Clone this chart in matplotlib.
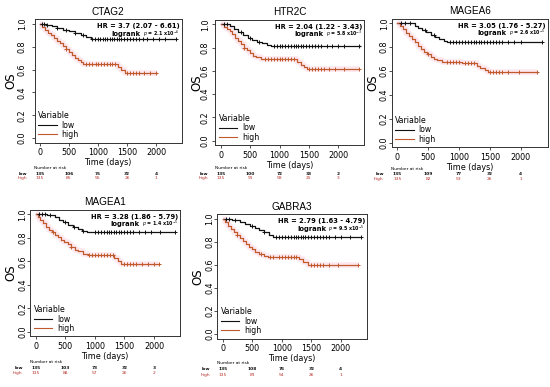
import numpy as np
import matplotlib
matplotlib.use("Agg")
import matplotlib.pyplot as plt
from matplotlib.transforms import blended_transform_factory
from matplotlib.lines import Line2D

W, H = 550, 387
genes = ["CTAG2", "HTR2C", "MAGEA6", "MAGEA1", "GABRA3"]
hr_text = ["HR = 3.7 (2.07 - 6.61)", "HR = 2.04 (1.22 - 3.43)", "HR = 3.05 (1.76 - 5.27)",
           "HR = 3.28 (1.86 - 5.79)", "HR = 2.79 (1.63 - 4.79)"]
p_mant = ["2.1", "5.8", "2.6", "1.4", "9.5"]
p_exp = ["-6", "-3", "-5", "-5", "-5"]

# Kaplan-Meier steps (time, survival after step)
low_t = {
    "CTAG2": [0, 100, 200, 300, 400, 500, 600, 700, 800, 880],
    "HTR2C": [0, 150, 220, 300, 380, 460, 540, 620, 700, 780, 860],
    "MAGEA6": [0, 280, 330, 400, 470, 540, 610, 680, 750, 800],
    "MAGEA1": [0, 200, 330, 400, 470, 550, 630, 710, 790, 870, 950],
    "GABRA3": [0, 150, 300, 380, 460, 540, 620, 700, 780, 860],
}
low_s = {
    "CTAG2": [1.0, 0.99, 0.978, 0.963, 0.948, 0.935, 0.92, 0.904, 0.885, 0.87],
    "HTR2C": [1.0, 0.985, 0.96, 0.935, 0.91, 0.885, 0.865, 0.85, 0.835, 0.82, 0.81],
    "MAGEA6": [1.0, 0.98, 0.96, 0.94, 0.925, 0.905, 0.885, 0.87, 0.855, 0.845],
    "MAGEA1": [1.0, 0.99, 0.975, 0.955, 0.935, 0.91, 0.89, 0.875, 0.86, 0.85, 0.845],
    "GABRA3": [1.0, 0.99, 0.975, 0.955, 0.94, 0.925, 0.905, 0.885, 0.86, 0.84],
}
low_end = {"CTAG2": 2350, "HTR2C": 2370, "MAGEA6": 2350, "MAGEA1": 2350, "GABRA3": 2350}

high_t = {
    "CTAG2": [0, 40, 90, 140, 190, 240, 290, 340, 400, 450, 500, 550, 600, 650, 700, 740, 1340, 1400, 1460],
    "HTR2C": [0, 50, 100, 150, 200, 250, 300, 350, 400, 450, 500, 550, 600, 680, 1300, 1360, 1420, 1470],
    "MAGEA6": [0, 40, 90, 140, 190, 240, 290, 340, 390, 440, 490, 540, 590, 650, 720, 1050, 1300, 1350, 1420, 1480],
    "MAGEA1": [0, 40, 80, 130, 180, 230, 280, 330, 380, 430, 480, 540, 600, 660, 720, 800, 880, 1330, 1390, 1450],
    "GABRA3": [0, 40, 90, 140, 190, 240, 290, 340, 390, 440, 490, 550, 620, 700, 760, 1300, 1360, 1440],
}
high_s = {
    "CTAG2": [1.0, 0.975, 0.95, 0.925, 0.905, 0.88, 0.855, 0.83, 0.805, 0.78, 0.755, 0.725, 0.70, 0.685, 0.665, 0.645, 0.62, 0.595, 0.572],
    "HTR2C": [1.0, 0.98, 0.96, 0.94, 0.915, 0.885, 0.86, 0.83, 0.80, 0.78, 0.755, 0.73, 0.715, 0.70, 0.675, 0.65, 0.63, 0.615],
    "MAGEA6": [1.0, 0.975, 0.95, 0.92, 0.895, 0.87, 0.84, 0.81, 0.785, 0.76, 0.74, 0.72, 0.70, 0.69, 0.675, 0.665, 0.645, 0.625, 0.605, 0.59],
    "MAGEA1": [1.0, 0.975, 0.95, 0.925, 0.895, 0.87, 0.845, 0.825, 0.805, 0.785, 0.765, 0.745, 0.72, 0.70, 0.685, 0.665, 0.65, 0.625, 0.60, 0.575],
    "GABRA3": [1.0, 0.97, 0.94, 0.915, 0.89, 0.86, 0.835, 0.81, 0.785, 0.76, 0.735, 0.715, 0.695, 0.68, 0.67, 0.65, 0.625, 0.60],
}
high_end = {"CTAG2": 2020, "HTR2C": 2350, "MAGEA6": 2260, "MAGEA1": 2080, "GABRA3": 2300}

low_cens = {
    "CTAG2": [40, 70, 120, 300, 450, 600, 750, 900, 950, 1000, 1040, 1080, 1120, 1160, 1200, 1240, 1280, 1320, 1360, 1400, 1450, 1500, 1550, 1600, 1650, 1700, 1780, 1850, 1950, 2050, 2150, 2350],
    "HTR2C": [60, 100, 350, 500, 650, 900, 950, 1000, 1050, 1100, 1150, 1200, 1240, 1280, 1320, 1360, 1400, 1450, 1500, 1550, 1600, 1650, 1700, 1800, 1900, 2000, 2100, 2350],
    "MAGEA6": [60, 120, 200, 450, 600, 850, 900, 950, 1000, 1050, 1100, 1150, 1200, 1240, 1280, 1320, 1360, 1400, 1450, 1500, 1550, 1600, 1650, 1700, 1800, 1900, 2000, 2350],
    "MAGEA1": [50, 100, 150, 250, 500, 650, 800, 1000, 1050, 1100, 1150, 1200, 1240, 1280, 1320, 1360, 1400, 1450, 1500, 1550, 1600, 1650, 1750, 1850, 1950, 2100, 2350],
    "GABRA3": [50, 100, 200, 500, 700, 900, 950, 1000, 1050, 1100, 1150, 1200, 1240, 1280, 1320, 1360, 1400, 1450, 1500, 1550, 1600, 1650, 1700, 1750, 1800, 1900, 2000, 2150, 2350],
}
high_cens = {
    "CTAG2": [450, 800, 850, 900, 960, 1000, 1050, 1100, 1150, 1200, 1250, 1300, 1500, 1550, 1600, 1650, 1700, 1800, 1900, 2000],
    "HTR2C": [400, 750, 800, 850, 900, 950, 1000, 1050, 1100, 1150, 1200, 1250, 1500, 1550, 1600, 1650, 1700, 1750, 1850, 1950, 2100, 2350],
    "MAGEA6": [500, 800, 850, 900, 950, 1000, 1100, 1150, 1200, 1250, 1500, 1550, 1600, 1650, 1700, 1800, 1980, 2260],
    "MAGEA1": [300, 600, 900, 950, 1000, 1050, 1100, 1150, 1200, 1250, 1300, 1500, 1550, 1600, 1650, 1700, 1800, 1900, 2000, 2080],
    "GABRA3": [250, 650, 800, 850, 950, 1000, 1050, 1100, 1150, 1200, 1250, 1500, 1550, 1600, 1650, 1700, 1800, 1950, 2300],
}

risk_times = [0, 500, 1000, 1500, 2000]
risk_low = {"CTAG2": [135, 106, 75, 32, 4], "HTR2C": [135, 100, 72, 33, 2], "MAGEA6": [135, 109, 77, 32, 4],
            "MAGEA1": [135, 103, 73, 32, 3], "GABRA3": [135, 108, 76, 32, 4]}
risk_high = {"CTAG2": [135, 85, 55, 26, 1], "HTR2C": [135, 91, 58, 25, 3], "MAGEA6": [135, 82, 53, 26, 1],
             "MAGEA1": [135, 88, 57, 26, 2], "GABRA3": [135, 83, 54, 26, 1]}

# layout in pixels: left, right, top, bottom of axes
boxes = {"CTAG2": (34.5, 181.7, 19.4, 142.6), "HTR2C": (215.2, 364.4, 19.6, 145.3),
         "MAGEA6": (391.5, 547.9, 18.5, 147.3), "MAGEA1": (30.1, 180.3, 209.6, 336.4),
         "GABRA3": (217.2, 366.9, 214.4, 338.6)}
# y tick label centre x and "OS" centre x (pixels)
ylab_x = {"CTAG2": (22.7, 11), "HTR2C": (206, 197), "MAGEA6": (385, 373),
          "MAGEA1": (23, 11), "GABRA3": (211.7, 198)}
# risk rows y (header, low, high)
risk_y = {"CTAG2": (167.8, 173.7, 178.5), "HTR2C": (168.3, 173.7, 178.5), "MAGEA6": (169.0, 174.2, 178.9),
          "MAGEA1": (362.3, 367.7, 372.7), "GABRA3": (363.3, 369.3, 375)}

LOW_C = "#111111"
HIGH_C = "#c0592b"
RISK_HIGH_C = "#b8302a"

plt.rcParams["font.family"] = ["DejaVu Sans"]
fig = plt.figure(figsize=(W / 100, H / 100), dpi=100)
fig.patch.set_facecolor("white")


def km_xy(t, s, end):
    x = [t[0]]
    y = [s[0]]
    for i in range(1, len(t)):
        x += [t[i], t[i]]
        y += [s[i - 1], s[i]]
    x.append(end)
    y.append(s[-1])
    return np.array(x), np.array(y)


def surv_at(t, s, c):
    idx = np.searchsorted(np.array(t), np.array(c), side="right") - 1
    return np.array(s)[idx]


TICK_LEN = 2.0  # pt
for i, g in enumerate(genes):
    l, r, tp, bt = boxes[g]
    ax = fig.add_axes([l / W, 1 - bt / H, (r - l) / W, (bt - tp) / H])
    hx, hy = km_xy(high_t[g], high_s[g], high_end[g])
    lx, ly = km_xy(low_t[g], low_s[g], low_end[g])
    ax.plot(hx, hy, color="#fde8f0", lw=4, solid_capstyle="butt", zorder=1)
    ax.plot(lx, ly, color=LOW_C, lw=0.9, zorder=3)
    ax.plot(hx, hy, color=HIGH_C, lw=0.9, zorder=3)
    ax.plot(low_cens[g], surv_at(low_t[g], low_s[g], low_cens[g]), ls="none", marker="+",
            ms=2.8, mew=0.7, color=LOW_C, zorder=4)
    ax.plot(high_cens[g], surv_at(high_t[g], high_s[g], high_cens[g]), ls="none", marker="+",
            ms=2.8, mew=0.7, color=HIGH_C, zorder=4)
    ax.set_xlim(-94, 2444)
    ax.set_ylim(-0.04, 1.04)
    ax.set_xticks([0, 500, 1000, 1500, 2000])
    ax.set_yticks([0, 0.2, 0.4, 0.6, 0.8, 1.0])
    ax.set_yticklabels(["0.0", "0.2", "0.4", "0.6", "0.8", "1.0"], rotation=90, va="center")
    ax.tick_params(length=TICK_LEN, width=0.6, labelsize=5.8, pad=1.8, color="#333333")
    tick_cx, os_cx = ylab_x[g]
    pad_px = l - tick_cx - TICK_LEN * 100 / 72 - 4.0
    ax.tick_params(axis="y", pad=max(pad_px, 0) * 72 / 100)
    for sp in ax.spines.values():
        sp.set_linewidth(0.7)
        sp.set_color("#333333")
    ax.set_title(g, fontsize=7.2, pad=3, family="Liberation Sans")
    ax.set_xlabel("Time (days)", fontsize=5.8, labelpad=1.0)
    fig.text(os_cx / W, 1 - (tp + bt) / 2 / H, "OS", rotation=90, ha="center", va="center", fontsize=8.5)
    ax.text(0.988, 0.945, hr_text[i], transform=ax.transAxes, ha="right", va="center",
            fontsize=4.9, fontweight="bold")
    pt = ax.text(0.988, 0.885, r"$p$ = " + p_mant[i] + r" x10$^{" + p_exp[i] + "}$",
                 transform=ax.transAxes, ha="right", va="center", fontsize=3.4, fontweight="bold")
    fig.canvas.draw()
    bb = pt.get_window_extent().transformed(ax.transAxes.inverted())
    ax.text(bb.x0 - 0.015, 0.885, "logrank", transform=ax.transAxes, ha="right", va="center",
            fontsize=4.9, fontweight="bold")
    handles = [Line2D([], [], color=LOW_C, lw=0.8), Line2D([], [], color=HIGH_C, lw=0.8)]
    ax.legend(handles, ["low", "high"], title="Variable", loc="lower left", frameon=False,
              fontsize=5.6, title_fontsize=5.6, handlelength=2.4, handletextpad=0.6,
              labelspacing=0.05, borderaxespad=0.15, borderpad=0.3, alignment="left")
    trans = blended_transform_factory(ax.transData, fig.transFigure)
    hy0, ly0, hy1 = risk_y[g]
    ax.text(-100, 1 - hy0 / H, "Number at risk", transform=trans, ha="left", va="center", fontsize=3.2)
    ax.text(-220, 1 - ly0 / H, "low", transform=trans, ha="right", va="center", fontsize=3.2,
            color=LOW_C, fontweight="bold")
    ax.text(-220, 1 - hy1 / H, "high", transform=trans, ha="right", va="center", fontsize=3.2,
            color=RISK_HIGH_C)
    for t, nl, nh in zip(risk_times, risk_low[g], risk_high[g]):
        ax.text(t, 1 - ly0 / H, str(nl), transform=trans, ha="center", va="center", fontsize=3.2,
                color=LOW_C, fontweight="bold")
        ax.text(t, 1 - hy1 / H, str(nh), transform=trans, ha="center", va="center", fontsize=3.2,
                color=RISK_HIGH_C)

fig.savefig("out.png", dpi=100, facecolor="white")
